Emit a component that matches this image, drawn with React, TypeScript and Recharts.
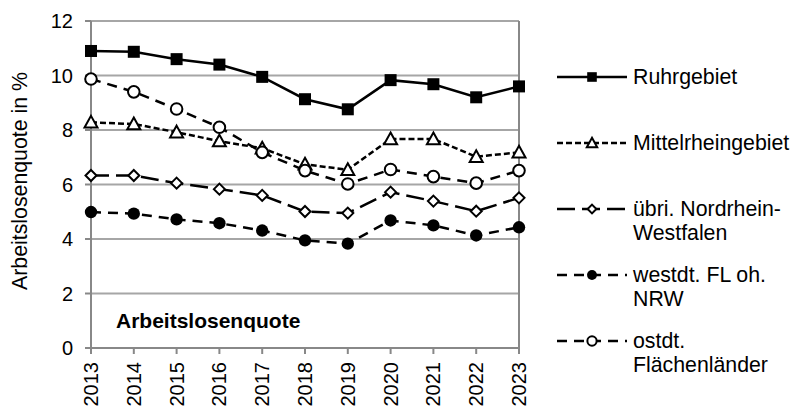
import React from 'react';
import { LineChart, Line, XAxis, YAxis, CartesianGrid, ReferenceLine } from 'recharts';

const years = ['2013', '2014', '2015', '2016', '2017', '2018', '2019', '2020', '2021', '2022', '2023'];
const ruhrgebiet = [10.9, 10.87, 10.6, 10.4, 9.95, 9.13, 8.76, 9.83, 9.68, 9.2, 9.6];
const mittelrheingebiet = [8.28, 8.22, 7.92, 7.59, 7.33, 6.74, 6.54, 7.67, 7.67, 7.02, 7.18];
const uebriNRW = [6.33, 6.33, 6.05, 5.83, 5.6, 5.01, 4.95, 5.72, 5.39, 5.02, 5.51];
const westdtFL = [4.99, 4.93, 4.72, 4.58, 4.31, 3.95, 3.83, 4.68, 4.5, 4.13, 4.43];
const ostdtFL = [9.87, 9.4, 8.77, 8.1, 7.18, 6.51, 6.02, 6.55, 6.29, 6.05, 6.51];
const yTicks = [0, 2, 4, 6, 8, 10, 12];

const seriesNames = ['Ruhrgebiet', 'Mittelrheingebiet', 'übri. Nordrhein-Westfalen', 'westdt. FL oh. NRW', 'ostdt. Flächenländer'];
const legendLines = [['Ruhrgebiet'], ['Mittelrheingebiet'], ['übri. Nordrhein-', 'Westfalen'], ['westdt. FL oh.', 'NRW'], ['ostdt.', 'Flächenländer']];
const seriesKeys = ['ruhr', 'mittel', 'uebri', 'west', 'ost'];
const seriesValues = [ruhrgebiet, mittelrheingebiet, uebriNRW, westdtFL, ostdtFL];
const markerKinds = ['square', 'triangle', 'diamond', 'dot', 'circle'];
const dashes = ['0', '6 3', '18 7', '10 7', '10 7'];

const data = years.map((y, i) => {
  const row: any = { year: y };
  seriesKeys.forEach((k, s) => { row[k] = seriesValues[s][i]; });
  return row;
});

const FONT = '"Liberation Sans", Arial, sans-serif';
const AXIS = '#888888';
const GRID = '#a6a6a6';
const BIG = 21.3;

function Marker({ kind, cx, cy, scale = 1 }: { kind: string; cx: number; cy: number; scale?: number }) {
  const sw = 2;
  if (kind === 'square') {
    const h = 6 * scale;
    return <rect x={cx - h} y={cy - h} width={2 * h} height={2 * h} fill="#000" stroke="none" />;
  }
  if (kind === 'triangle') {
    const h = 6.5 * scale;
    return <polygon points={`${cx},${cy - h} ${cx + h},${cy + h * 0.8} ${cx - h},${cy + h * 0.8}`} fill="#fff" stroke="#000" strokeWidth={sw} strokeDasharray="none" />;
  }
  if (kind === 'diamond') {
    const h = 5.5 * scale;
    return <polygon points={`${cx},${cy - h} ${cx + h},${cy} ${cx},${cy + h} ${cx - h},${cy}`} fill="#fff" stroke="#000" strokeWidth={sw} strokeDasharray="none" />;
  }
  if (kind === 'dot') {
    return <circle cx={cx} cy={cy} r={6.2 * scale} fill="#000" stroke="none" />;
  }
  return <circle cx={cx} cy={cy} r={5.8 * scale} fill="#fff" stroke="#000" strokeWidth={sw} strokeDasharray="none" />;
}

const makeDot = (kind: string) => (props: any) => {
  const { cx, cy, index } = props;
  if (cx == null || cy == null) return <g key={`${kind}-${index}`} />;
  return (
    <g key={`${kind}-${index}`}>
      <Marker kind={kind} cx={cx} cy={cy} />
    </g>
  );
};

const XTick = (props: any) => {
  const { x, y, payload } = props;
  return (
    <g transform={`translate(${x},${y})`}>
      <text transform="rotate(-90)" x={-6} y={0} dy="0.35em" textAnchor="end" fontSize={20} fontFamily={FONT} fill="#000">
        {payload.value}
      </text>
    </g>
  );
};

const YLabel = () => (
  <text x={20} y={181} transform="rotate(-90 20 181)" textAnchor="middle" dominantBaseline="central" fontSize={BIG} fontFamily={FONT} fill="#000">
    Arbeitslosenquote in %
  </text>
);

export default function App() {
  return (
    <div style={{ position: 'absolute', left: 0, top: 0, width: 792, height: 407, background: '#fff' }}>
      <LineChart width={792} height={407} data={data} margin={{ top: 21, right: 273, left: 0, bottom: 0 }}>
        <CartesianGrid horizontal vertical={false} stroke={GRID} strokeWidth={2} />
        <XAxis
          dataKey="year"
          interval={0}
          height={59}
          tick={<XTick />}
          tickSize={6}
          tickMargin={2}
          axisLine={{ stroke: AXIS, strokeWidth: 2 }}
          tickLine={{ stroke: AXIS, strokeWidth: 2 }}
        />
        <YAxis
          width={91}
          domain={[0, 12]}
          ticks={yTicks}
          interval={0}
          tickSize={6}
          tickMargin={12}
          tick={{ fontSize: 20, fontFamily: FONT, fill: '#000' }}
          axisLine={{ stroke: AXIS, strokeWidth: 2 }}
          tickLine={{ stroke: AXIS, strokeWidth: 2 }}
          label={{ value: 'Arbeitslosenquote in %', content: () => <YLabel /> }}
        />
        <ReferenceLine x="2023" stroke={AXIS} strokeWidth={2} />
        {seriesKeys.map((k, s) => (
          <Line
            key={k}
            type="linear"
            dataKey={k}
            name={seriesNames[s]}
            stroke="#000"
            strokeWidth={2.5}
            strokeDasharray={dashes[s] === '0' ? undefined : dashes[s]}
            dot={makeDot(markerKinds[s])}
            activeDot={false}
            isAnimationActive={false}
          />
        ))}
      </LineChart>
      <div style={{ position: 'absolute', left: 116, top: 309, fontFamily: FONT, fontWeight: 'bold', fontSize: 21, lineHeight: '24px', color: '#000', whiteSpace: 'nowrap' }}>
        Arbeitslosenquote
      </div>
      <div style={{ position: 'absolute', left: 557, top: 65, width: 235 }}>
        {seriesKeys.map((k, s) => (
          <div key={k} style={{ height: 66, display: 'flex', alignItems: 'flex-start' }}>
            <svg width={70} height={24} style={{ flex: 'none' }}>
              <line x1={0} y1={12} x2={70} y2={12} stroke="#000" strokeWidth={2.5} strokeDasharray={dashes[s] === '0' ? undefined : dashes[s]} />
              <Marker kind={markerKinds[s]} cx={35} cy={12} scale={0.8} />
            </svg>
            <div style={{ marginLeft: 6, fontFamily: FONT, fontSize: BIG, lineHeight: '24px', color: '#000', whiteSpace: 'nowrap' }}>
              {legendLines[s].map((t, j) => (
                <div key={j}>{t}</div>
              ))}
            </div>
          </div>
        ))}
      </div>
    </div>
  );
}
